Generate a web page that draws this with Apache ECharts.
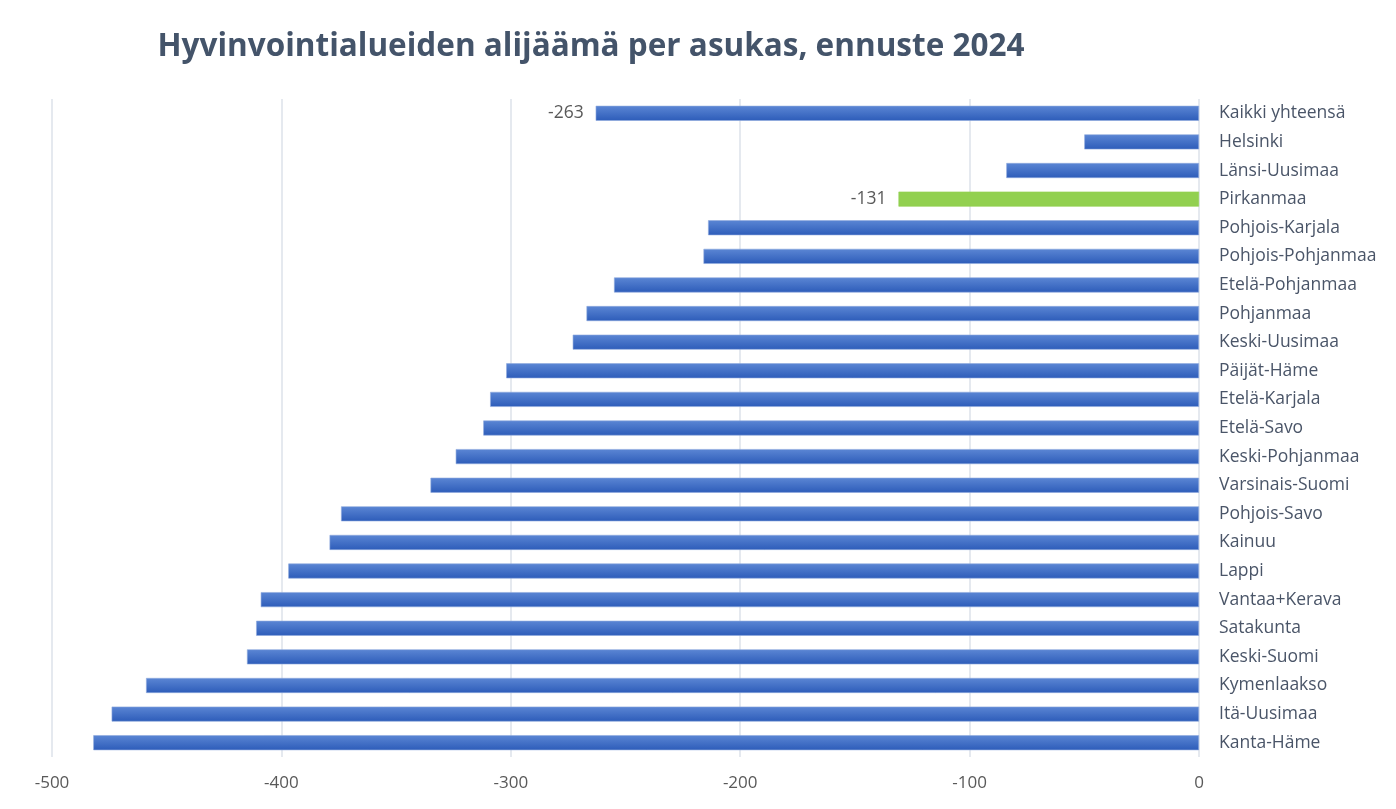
<!DOCTYPE html>
<html>
<head>
<meta charset="utf-8">
<title>Hyvinvointialueiden alijäämä per asukas</title>
<script src="https://cdn.jsdelivr.net/npm/echarts@6/dist/echarts.min.js"></script>
<style>
  html, body { margin: 0; padding: 0; background: #fff; }
  #chart { width: 1396px; height: 809px; }
</style>
</head>
<body>
<div id="chart"></div>
<script>
// alueet ylhäältä alas
const regions = [
  "Kaikki yhteensä", "Helsinki", "Länsi-Uusimaa", "Pirkanmaa",
  "Pohjois-Karjala", "Pohjois-Pohjanmaa", "Etelä-Pohjanmaa", "Pohjanmaa",
  "Keski-Uusimaa", "Päijät-Häme", "Etelä-Karjala", "Etelä-Savo",
  "Keski-Pohjanmaa", "Varsinais-Suomi", "Pohjois-Savo", "Kainuu",
  "Lappi", "Vantaa+Kerava", "Satakunta", "Keski-Suomi",
  "Kymenlaakso", "Itä-Uusimaa", "Kanta-Häme"
];
const deficit = [
  -263, -50, -84, -131,
  -214, -216, -255, -267,
  -273, -302, -309, -312,
  -324, -335, -374, -379,
  -397, -409, -411, -415,
  -459, -474, -482
];
const labelled = ["Kaikki yhteensä", "Pirkanmaa"];
const highlight = "Pirkanmaa";

const chart = echarts.init(document.getElementById("chart"));

const blue = new echarts.graphic.LinearGradient(0, 0, 0, 1, [
  { offset: 0, color: "#5b86d4" },
  { offset: 1, color: "#2d5cb9" }
]);

const option = {
  backgroundColor: "#fff",
  animation: false,
  textStyle: { fontFamily: "Open Sans" },
  title: {
    text: "Hyvinvointialueiden alijäämä per asukas, ennuste 2024",
    left: 586,
    top: 26,
    textAlign: "center",
    textStyle: { fontFamily: "Open Sans", fontSize: 31.5, fontWeight: "bold", color: "#44546a" }
  },
  grid: { left: 52, right: 197, top: 99, bottom: 52, containLabel: false },
  xAxis: {
    type: "value",
    min: -500,
    max: 0,
    interval: 100,
    axisLine: { show: false },
    axisTick: { show: false },
    splitLine: { lineStyle: { color: "#dde2ea", width: 1.5 } },
    axisLabel: { color: "#595959", fontSize: 17, margin: 18 }
  },
  yAxis: {
    type: "category",
    data: regions,
    inverse: true,
    position: "right",
    axisLine: { show: false },
    axisTick: { show: false },
    axisLabel: { color: "#4a5568", fontSize: 17.5, margin: 20, align: "left" }
  },
  series: [{
    type: "bar",
    barWidth: 15,
    data: deficit.map((v, i) => ({
      value: v,
      itemStyle: {
        color: regions[i] === highlight ? "#92d050" : blue,
        borderColor: regions[i] === highlight ? "#92d050" : "#8fa9de",
        borderWidth: 0.6
      },
      label: {
        show: labelled.includes(regions[i]),
        position: "left",
        distance: 12,
        color: "#595959",
        fontSize: 17.5
      }
    }))
  }]
};

chart.setOption(option);
</script>
</body>
</html>
